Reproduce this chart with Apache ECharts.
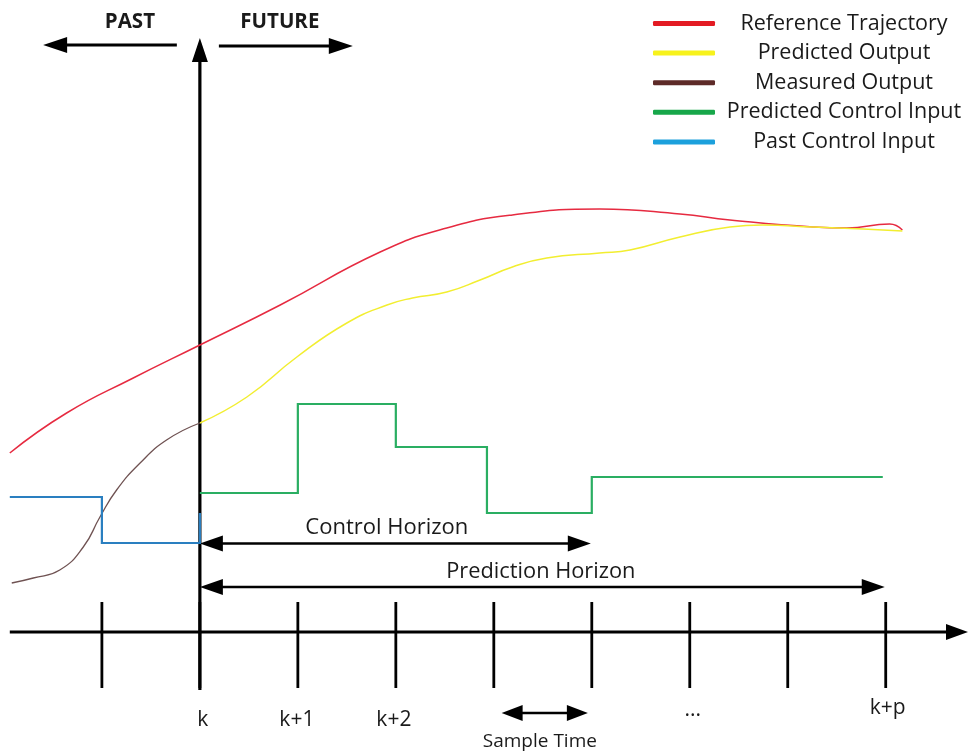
<!DOCTYPE html>
<html>
<head>
<meta charset="utf-8">
<script src="https://cdn.jsdelivr.net/npm/echarts@6/dist/echarts.min.js"></script>
<style>html,body{margin:0;padding:0;background:#fff}#c{width:969px;height:751px}</style>
</head>
<body>
<div id="c"></div>
<script>
// ---------- DATA (time in sample steps, k = 0; output in diagram units, time axis at 0) ----------
const seriesNames = ['Reference Trajectory', 'Predicted Output', 'Measured Output', 'Predicted Control Input', 'Past Control Input'];

const referenceTrajectory = [
  [-1.94, 1.79], [-1.36, 2.19], [-0.68, 2.54], [0, 2.87], [0.82, 3.27], [1.84, 3.80],
  [2.52, 4.04], [3.19, 4.17], [4.08, 4.23], [4.90, 4.18], [5.41, 4.12], [6.26, 4.05],
  [6.60, 4.04], [7.04, 4.08], [7.17, 4.02]
];
const predictedOutput = [
  [0, 2.09], [0.48, 2.35], [0.99, 2.75], [1.50, 3.09], [1.91, 3.27], [2.17, 3.34],
  [2.52, 3.40], [2.86, 3.52], [3.19, 3.65], [3.54, 3.74], [4.08, 3.79], [4.39, 3.82],
  [4.90, 3.95], [5.41, 4.05], [5.74, 4.07], [6.26, 4.05], [6.77, 4.03], [7.17, 4.01]
];
const measuredOutput = [
  [-1.92, 0.49], [-1.70, 0.54], [-1.43, 0.62], [-1.19, 0.85], [-1.02, 1.15],
  [-0.85, 1.42], [-0.61, 1.69], [-0.34, 1.92], [0, 2.09]
];
const predictedControlInput = [
  [0, 1.39], [1, 1.39], [1, 2.28], [2, 2.28], [2, 1.85], [2.93, 1.85],
  [2.93, 1.19], [4, 1.19], [4, 1.55], [6.97, 1.55]
];
const pastControlInput = [
  [-1.94, 1.35], [-1, 1.35], [-1, 0.89], [0, 0.89], [0, 1.19]
];

const sampleTicks = [-1, 0, 1, 2, 3, 4, 5, 6, 7];
const tickLabels = ['k', 'k+1', 'k+2', '...', 'k+p'];
const tickLabelSteps = [0.03, 0.99, 1.98, 5.03, 7.02];

// ---------- STYLE / LAYOUT ----------
const FONT = '"Open Sans"';
const legendColors = ['#e31b23', '#f7f21c', '#5d2a28', '#17a74a', '#1ca0dc'];
const lineColors = ['#e62a40', '#f2ee30', '#6f5252', '#2aae62', '#2a7fc0'];
const lineWidths = [1.5, 1.5, 1.3, 2.2, 2.2];

const chart = echarts.init(document.getElementById('c'), null, { renderer: 'canvas' });

const curveData = [referenceTrajectory, predictedOutput, measuredOutput, predictedControlInput, pastControlInput];

const option = {
  animation: false,
  backgroundColor: '#ffffff',
  grid: { left: 0, right: 0, top: 0, bottom: 0, containLabel: false },
  xAxis: { type: 'value', min: -2.04, max: 7.85, show: false },
  yAxis: { type: 'value', min: -1.19, max: 6.32, show: false },
  legend: {
    orient: 'vertical',
    left: 653,
    top: 11.5,
    padding: 0,
    itemWidth: 62,
    itemHeight: 5,
    itemGap: 5.6,
    icon: 'roundRect',
    selectedMode: false,
    data: seriesNames.map((n, i) => ({ name: n, itemStyle: { color: legendColors[i] } })),
    formatter: '{c|{name}}',
    textStyle: {
      rich: { c: { width: 248, height: 24, align: 'center', fontSize: 21.5, lineHeight: 24, fontFamily: FONT, color: '#1a1a1a' } }
    }
  },
  series: seriesNames.map((n, i) => ({
    name: n,
    type: 'line',
    data: curveData[i],
    smooth: i < 3 ? 0.5 : false,
    showSymbol: false,
    symbol: 'none',
    color: legendColors[i],
    lineStyle: { color: lineColors[i], width: lineWidths[i], join: 'miter' },
    z: 3
  }))
};
chart.setOption(option);

// ---------- annotations (data-space positions converted by the chart's own scales) ----------
const P = (t, y) => chart.convertToPixel({ gridIndex: 0 }, [t, y]);

const arrowSpecs = [
  { a: [-1.94, 0], b: [7.84, 0], s: false, e: true, L: 22, W: 8, w: 3.2 },       // time axis
  { a: [0, -0.58], b: [0, 5.94], s: false, e: true, L: 24, W: 8, w: 3.2 },       // vertical axis (k)
  { a: [-0.235, 5.87], b: [-1.60, 5.87], s: false, e: true, L: 24, W: 8, w: 3 }, // PAST
  { a: [0.194, 5.86], b: [1.561, 5.86], s: false, e: true, L: 24, W: 8, w: 3 },  // FUTURE
  { a: [0, 0.885], b: [3.99, 0.885], s: true, e: true, L: 23, W: 8, w: 2.6 },    // Control Horizon
  { a: [0, 0.45], b: [6.99, 0.45], s: true, e: true, L: 23, W: 8, w: 2.6 },      // Prediction Horizon
  { a: [3.08, -0.81], b: [3.96, -0.81], s: true, e: true, L: 21, W: 8, w: 2.6 }  // Sample Time
];

const textSpecs = [
  { text: 'PAST', at: [-0.714, 6.10], size: 20.5, bold: true },
  { text: 'FUTURE', at: [0.816, 6.10], size: 20.5, bold: true },
  { text: 'Control Horizon', at: [1.908, 1.04], size: 22 },
  { text: 'Prediction Horizon', at: [3.48, 0.60], size: 21.8 },
  { text: 'Sample Time', at: [3.47, -1.10], size: 19 }
];

function buildGraphics() {
  const els = [];
  const black = '#000000';
  arrowSpecs.forEach(sp => {
    const pa = P(sp.a[0], sp.a[1]);
    const pb = P(sp.b[0], sp.b[1]);
    const dx = pb[0] - pa[0], dy = pb[1] - pa[1];
    const len = Math.hypot(dx, dy);
    const ux = dx / len, uy = dy / len;
    const nx = -uy, ny = ux;
    let s0 = pa.slice(), s1 = pb.slice();
    if (sp.s) s0 = [pa[0] + ux * (sp.L - 2), pa[1] + uy * (sp.L - 2)];
    if (sp.e) s1 = [pb[0] - ux * (sp.L - 2), pb[1] - uy * (sp.L - 2)];
    els.push({ type: 'line', z: 1, shape: { x1: s0[0], y1: s0[1], x2: s1[0], y2: s1[1] },
      style: { stroke: black, lineWidth: sp.w } });
    const head = (tip, dirx, diry) => {
      const bx = tip[0] - dirx * sp.L, by = tip[1] - diry * sp.L;
      els.push({ type: 'polygon', z: 1, shape: { points: [tip, [bx + nx * sp.W, by + ny * sp.W], [bx - nx * sp.W, by - ny * sp.W]] },
        style: { fill: black } });
    };
    if (sp.e) head(pb, ux, uy);
    if (sp.s) head(pa, -ux, -uy);
  });
  sampleTicks.forEach(t => {
    const p1 = P(t, 0.30), p2 = P(t, -0.56);
    els.push({ type: 'line', z: 1, shape: { x1: p1[0], y1: p1[1], x2: p2[0], y2: p2[1] },
      style: { stroke: black, lineWidth: 2.8 } });
  });
  const labelY = [-0.88, -0.88, -0.88, -0.78, -0.76];
  tickLabels.forEach((lab, i) => {
    const p = P(tickLabelSteps[i], labelY[i]);
    els.push({ type: 'text', z: 5, x: p[0], y: p[1],
      style: { text: lab, fill: '#1a1a1a', font: '21px ' + FONT, align: 'center', verticalAlign: 'middle' } });
  });
  textSpecs.forEach(ts => {
    const p = P(ts.at[0], ts.at[1]);
    els.push({ type: 'text', z: 5, x: p[0], y: p[1],
      style: { text: ts.text, fill: '#1a1a1a', font: (ts.bold ? 'bold ' : '') + ts.size + 'px ' + FONT,
        align: 'center', verticalAlign: 'middle' } });
  });
  return els;
}

chart.setOption({ graphic: { elements: buildGraphics() } });
</script>
</body>
</html>
